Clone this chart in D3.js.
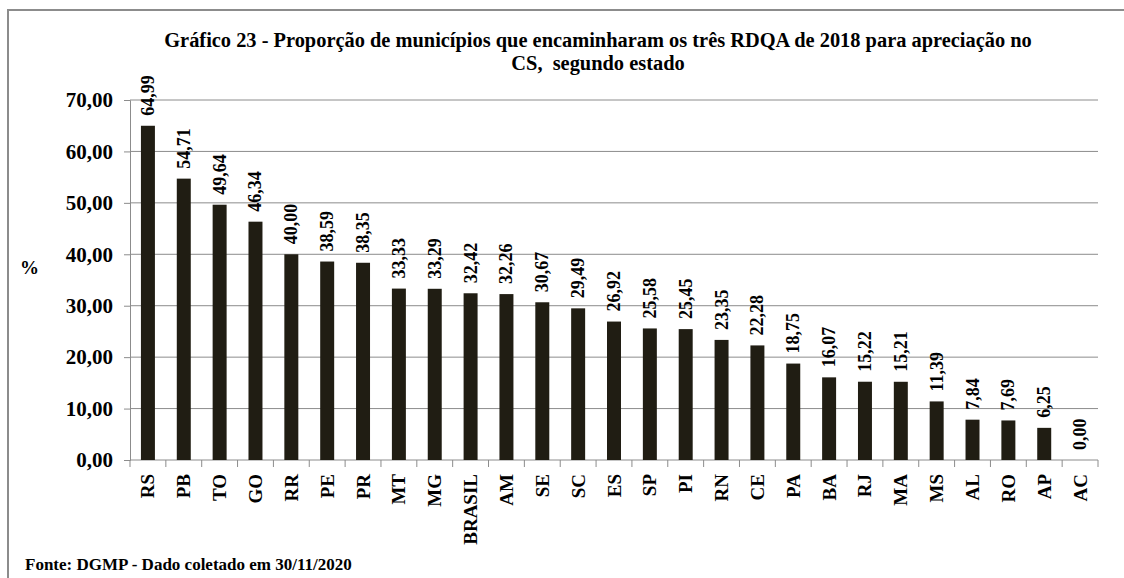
<!doctype html>
<html lang="pt">
  <head>
    <meta charset="UTF-8" />
    <title>Gráfico 23</title>
    <script src="https://cdn.jsdelivr.net/npm/d3@7"></script>
    <style>
      body { margin: 0; background: #fff; }
      svg { display: block; font-family: "Liberation Serif", "Times New Roman", serif; }
    </style>
  </head>
  <body>
    <svg id="chart"></svg>
    <script>
      const estados = ["RS","PB","TO","GO","RR","PE","PR","MT","MG","BRASIL","AM","SE","SC","ES","SP","PI","RN","CE","PA","BA","RJ","MA","MS","AL","RO","AP","AC"];
      const valores = [64.99,54.71,49.64,46.34,40.00,38.59,38.35,33.33,33.29,32.42,32.26,30.67,29.49,26.92,25.58,25.45,23.35,22.28,18.75,16.07,15.22,15.21,11.39,7.84,7.69,6.25,0.00];
      const ticksY = [0,10,20,30,40,50,60,70];

      const width = 1124, height = 578;
      const margin = { left: 130, right: 26, top: 100, bottom: 118 };
      const fmt = v => v.toFixed(2).replace(".", ",");

      const svg = d3.select("#chart").attr("width", width).attr("height", height);

      // moldura
      svg.append("rect")
        .attr("x", 8).attr("y", 10)
        .attr("width", width).attr("height", height)
        .attr("fill", "none").attr("stroke", "#8c8c8c").attr("stroke-width", 2);

      const x = d3.scaleBand()
        .domain(estados)
        .range([margin.left, width - margin.right])
        .paddingInner(0.61).paddingOuter(0.305);

      const y = d3.scaleLinear()
        .domain([0, 70])
        .range([height - margin.bottom, margin.top]);

      // grade
      svg.append("g")
        .selectAll("line")
        .data(ticksY.slice(1))
        .join("line")
        .attr("x1", margin.left).attr("x2", width - margin.right)
        .attr("y1", d => y(d)).attr("y2", d => y(d))
        .attr("stroke", "#8c8c8c").attr("stroke-width", 1);

      // eixo y
      const yAxis = svg.append("g")
        .attr("transform", `translate(${margin.left},0)`)
        .call(d3.axisLeft(y).tickValues(ticksY).tickFormat(fmt).tickSize(6).tickPadding(11));
      yAxis.select(".domain").attr("stroke", "#8c8c8c");
      yAxis.selectAll(".tick line").attr("stroke", "#8c8c8c");
      yAxis.selectAll("text")
        .attr("font-family", "Liberation Serif").attr("font-weight", "bold")
        .attr("font-size", 21).attr("fill", "#000");

      // eixo x com marcas entre categorias
      const xAxisG = svg.append("g")
        .attr("transform", `translate(0,${y(0)})`);
      xAxisG.append("line")
        .attr("x1", margin.left).attr("x2", width - margin.right)
        .attr("stroke", "#8c8c8c");
      const step = x.step();
      xAxisG.selectAll("line.sep")
        .data(d3.range(estados.length + 1))
        .join("line").attr("class", "sep")
        .attr("x1", i => margin.left + i * step).attr("x2", i => margin.left + i * step)
        .attr("y1", 0).attr("y2", 7)
        .attr("stroke", "#8c8c8c");
      xAxisG.selectAll("text")
        .data(estados)
        .join("text")
        .attr("transform", d => `translate(${x(d) + x.bandwidth() / 2},14) rotate(-90)`)
        .attr("text-anchor", "end")
        .attr("dominant-baseline", "central")
        .attr("font-weight", "bold").attr("font-size", 19)
        .text(d => d);

      // barras
      svg.append("g")
        .selectAll("rect")
        .data(estados)
        .join("rect")
        .attr("x", d => x(d))
        .attr("width", x.bandwidth())
        .attr("y", (d, i) => y(valores[i]))
        .attr("height", (d, i) => y(0) - y(valores[i]))
        .attr("fill", "#201d13");

      // rótulos de valor
      svg.append("g")
        .selectAll("text")
        .data(estados)
        .join("text")
        .attr("transform", (d, i) => `translate(${x(d) + x.bandwidth() / 2},${y(valores[i]) - 10}) rotate(-90)`)
        .attr("text-anchor", "start")
        .attr("dominant-baseline", "central")
        .attr("font-weight", "bold").attr("font-size", 18)
        .text((d, i) => fmt(valores[i]));

      // título
      const title = svg.append("text")
        .attr("x", 598).attr("y", 47)
        .attr("text-anchor", "middle")
        .attr("font-weight", "bold").attr("font-size", 20.4);
      title.append("tspan").attr("x", 598).text("Gráfico 23 - Proporção de municípios que encaminharam os três RDQA de 2018 para apreciação no");
      title.append("tspan").attr("x", 598).attr("dy", 23).text("CS,  segundo estado").attr("xml:space", "preserve");

      svg.append("text")
        .attr("x", 20).attr("y", 274)
        .attr("font-weight", "bold").attr("font-size", 19)
        .text("%");

      svg.append("text")
        .attr("x", 25).attr("y", 570)
        .attr("font-weight", "bold").attr("font-size", 17)
        .text("Fonte: DGMP - Dado coletado em 30/11/2020");
    </script>
  </body>
</html>
